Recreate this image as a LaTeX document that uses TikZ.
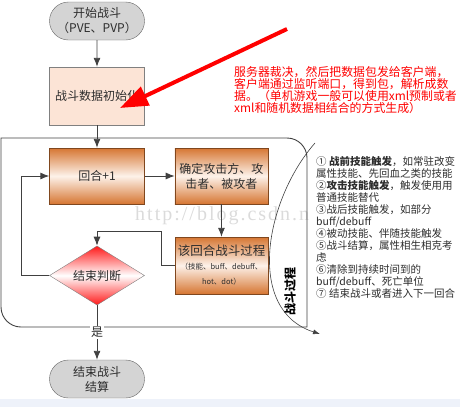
\documentclass[tikz,border=0pt]{standalone}
\usepackage{fontspec}
\setmainfont{Noto Sans CJK SC}
\newfontfamily\wmfont{Liberation Serif}[LetterSpace=10]
\usepackage{tikz}
\usepackage{xcolor}
\usetikzlibrary{shapes,arrows,arrows.meta,positioning,shapes.geometric,shapes.misc}
\definecolor{linegray}{RGB}{64,64,64}
\definecolor{textgray}{RGB}{45,45,45}
\definecolor{termgray}{RGB}{212,212,212}
\definecolor{peach}{RGB}{252,228,214}
\definecolor{orangedark}{RGB}{214,118,50}
\definecolor{orangelight}{RGB}{253,242,234}
\definecolor{judgered}{RGB}{255,25,25}
\definecolor{stripblue}{RGB}{238,242,250}
\definecolor{notered}{RGB}{255,0,0}
\tikzstyle{arrow} = [
    line width=0.9pt,
    -{Latex[length=9pt,width=7pt]},
    draw=linegray
]
\tikzstyle{flowbox} = [
    rectangle,
    minimum width=95pt,
    minimum height=56pt,
    inner sep=0pt,
    align=center,
    text=textgray,
    draw=gray,
    font=\fontsize{12}{15}\selectfont
]

\begin{document}
\begin{tikzpicture}[
                x=1pt, y=-1pt,
                terminal/.style={
                    flowbox,
                    rounded rectangle,
                    minimum height=38pt,
                    fill=termgray,
                    draw=gray!80!black
                },
                initbox/.style={
                    flowbox,
                    minimum height=58pt,
                    fill=peach
                },
                orangebox/.style={
                    flowbox,
                    top color=orangedark,
                    bottom color=orangedark,
                    middle color=orangelight,
                    draw=orangedark!60!black
                },
                judgebox/.style={
                    flowbox,
                    diamond,
                    minimum width=95pt,
                    minimum height=55pt,
                    top color=judgered,
                    bottom color=judgered,
                    middle color=white
                },
                rednote/.style={
                    anchor=north west,
                    align=left,
                    inner sep=0pt,
                    text=notered,
                    font=\fontsize{11.9}{12}\selectfont
                },
                sidenote/.style={
                    anchor=north west,
                    align=left,
                    inner sep=0pt,
                    fill=white,
                    text=textgray,
                    font=\fontsize{10.5}{12}\selectfont
                }
            ]
                \useasboundingbox (0,0) rectangle (460,407);
                \fill[stripblue] (0,399) rectangle (460,407);
                % watermark
                \node[anchor=base west, inner sep=0pt, text=gray!28,
                      font=\wmfont\fontsize{20}{20}\selectfont] (W) at (135,220) {http://blog.csdn.n};
                % loop frame
                \draw[linegray, line width=0.9pt] (1,138) -- (287,138)
                    arc[start angle=270, end angle=360, radius=20] -- (307,327) -- (21,327)
                    arc[start angle=90, end angle=180, radius=20] -- cycle;
                \node[terminal] (S) at (97,21) {开始战斗\\（PVE、PVP）};
                \node[initbox] (I) at (97,96) {战斗数据初始化};
                \node[orangebox] (R) at (97,176) {回合+1};
                \node[orangebox, minimum width=93pt] (D) [right=30pt of R] {确定攻击方、攻\\击者、被攻者};
                \node[orangebox, minimum width=93pt, minimum height=57pt] (F) at (221.5,265.5)
                    {{\fontsize{12.5}{14}\selectfont 该回合战斗过程}\\[-1pt]
                     {\fontsize{7.5}{12}\selectfont （技能、buff、debuff、}\\
                     {\fontsize{7.5}{12}\selectfont hot、dot）}};
                \node[judgebox] (J) at (97,275.5) {结束判断};
                \node[terminal] (E) at (97,379) {结束战斗\\结算};
                \draw[arrow] (S) -- (I);
                \draw[arrow] (I) -- (R);
                \draw[arrow] (R) -- (D);
                \draw[arrow] (D) -- (F);
                \draw[arrow] (F.west) -- ++(-13,0) |- ([yshift=14pt]J.north) -- (J.north);
                \draw[arrow] (J.west) -- ++(-28,0) |- (R.west);
                \draw[arrow] (J.south) -- node[fill=white, inner sep=1pt, text=textgray,
                    font=\fontsize{12}{12}\selectfont] {是} (E.north);
                % process bracket
                \coordinate (ctop) at (315,143);
                \coordinate (cend) at (320,334);
                \draw[line width=0.6pt, linegray, -{Latex[length=7pt,width=5pt]}] (ctop)
                    .. controls (265,200) and (245,310) .. (cend);
                \node[rotate=90, inner sep=0pt, text=black,
                      font=\bfseries\fontsize{12}{12}\selectfont] (P) at (290,291) {战斗过程};
                \node[sidenote] (N) at (316,156) {① {\bfseries 战前技能触发}，如常驻改变\\
                    属性技能、先回血之类的技能\\
                    ②{\bfseries 攻击技能触发}，触发使用用\\
                    普通技能替代\\
                    ③战后技能触发，如部分\\
                    buff/debuff\\
                    ④被动技能、伴随技能触发\\
                    ⑤战斗结算，属性相生相克考\\
                    虑\\
                    ⑥清除到持续时间到的\\
                    buff/debuff、死亡单位\\
                    ⑦ 结束战斗或者进入下一回合};
                % server note
                \node[rednote] (T) at (234,66) {服务器裁决，然后把数据包发给客户端，\\
                    客户端通过监听端口，得到包，解析成数\\
                    据。（单机游戏一般可以使用xml预制或者\\
                    xml和随机数据相结合的方式生成）};
                \coordinate (redtail) at (287,29);
                \coordinate (redtip) at (120,108);
                \draw[notered, line width=4pt, -{Triangle[length=28pt,width=20pt]}] (redtail) -- (redtip);
            \end{tikzpicture}
\end{document}
